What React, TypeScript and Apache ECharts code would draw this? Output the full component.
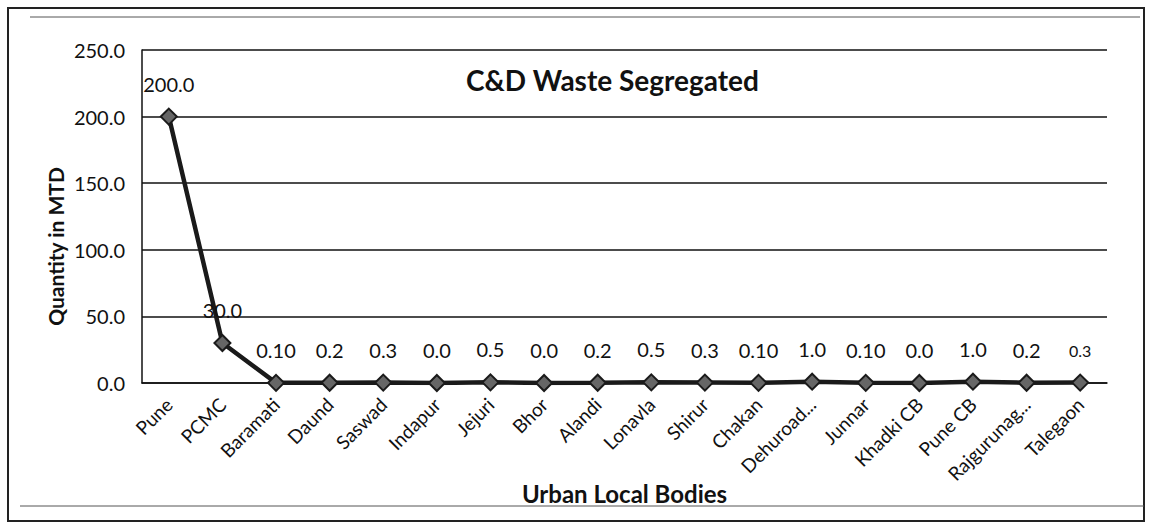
import React, { useEffect, useRef } from "react";
import * as echarts from "echarts";

const categories = [
  "Pune", "PCMC", "Baramati", "Daund", "Saswad", "Indapur", "Jejuri", "Bhor", "Alandi",
  "Lonavla", "Shirur", "Chakan", "Dehuroad...", "Junnar", "Khadki CB", "Pune CB", "Rajgurunag...", "Talegaon",
];
const values = [200, 30, 0.1, 0.2, 0.3, 0.0, 0.5, 0.0, 0.2, 0.5, 0.3, 0.1, 1.0, 0.1, 0.0, 1.0, 0.2, 0.3];
const valueLabels = [
  "200.0", "30.0", "0.10", "0.2", "0.3", "0.0", "0.5", "0.0", "0.2",
  "0.5", "0.3", "0.10", "1.0", "0.10", "0.0", "1.0", "0.2", "0.3",
];
const yTicks = [0, 50, 100, 150, 200, 250];

const FONT = "Lato, 'Open Sans', sans-serif";

export default function App() {
  const ref = useRef<HTMLDivElement>(null);
  useEffect(() => {
    if (!ref.current) return;
    const chart = echarts.init(ref.current, null, { renderer: "svg" });
    const data = values.map((v, i) => {
      const item: any = { value: v };
      if (i === values.length - 1) item.label = { fontSize: 16, distance: 15 };
      return item;
    });
    chart.setOption({
      animation: false,
      backgroundColor: "#ffffff",
      title: {
        text: "C&D Waste Segregated",
        left: 461,
        top: 61,
        textStyle: { fontFamily: FONT, fontSize: 28, fontWeight: "bold", color: "#111" },
      },
      grid: { left: 142, right: 44, top: 50, bottom: 146 },
      xAxis: {
        type: "category",
        data: categories,
        boundaryGap: true,
        name: "Urban Local Bodies",
        nameLocation: "middle",
        nameGap: 98,
        nameMoveOverlap: false,
        nameTextStyle: { fontFamily: FONT, fontSize: 24, fontWeight: "bold", color: "#111" },
        axisLine: { show: true, lineStyle: { color: "#111", width: 1.5 } },
        axisTick: { show: false },
        axisLabel: {
          interval: 0,
          rotate: 45,
          margin: 18,
          fontFamily: FONT,
          fontSize: 19,
          color: "#111",
        },
      },
      yAxis: {
        type: "value",
        min: 0,
        max: 250,
        interval: 50,
        name: "Quantity in MTD",
        nameLocation: "middle",
        nameGap: 76,
        nameMoveOverlap: false,
        nameTextStyle: { fontFamily: FONT, fontSize: 21, fontWeight: "bold", color: "#111", padding: [0, 60, 0, 0] },
        axisLine: { show: true, lineStyle: { color: "#111", width: 1.5 } },
        axisTick: { show: false },
        axisLabel: {
          margin: 17,
          fontFamily: FONT,
          fontSize: 20,
          color: "#111",
          formatter: (v: number) => (yTicks.includes(v) ? v.toFixed(1) : ""),
        },
        splitLine: { show: true, lineStyle: { color: "#111", width: 1.5 } },
      },
      series: [
        {
          type: "line",
          data,
          symbol: "diamond",
          symbolSize: 16,
          lineStyle: { color: "#1a1a1a", width: 4.5 },
          itemStyle: { color: "#666", borderColor: "#1a1a1a", borderWidth: 2 },
          label: {
            show: true,
            position: "top",
            distance: 14,
            fontFamily: FONT,
            fontSize: 20,
            color: "#111",
            formatter: (p: any) => valueLabels[p.dataIndex],
          },
        },
      ],
      graphic: [
        { type: "rect", shape: { x: 8, y: 8, width: 1136, height: 513 }, style: { fill: "none", stroke: "#222", lineWidth: 2 } },
        { type: "line", shape: { x1: 30, y1: 17, x2: 1140, y2: 17 }, style: { stroke: "#555", lineWidth: 1 } },
        { type: "line", shape: { x1: 20, y1: 506, x2: 1144, y2: 506 }, style: { stroke: "#555", lineWidth: 1 } },
      ],
    });
    return () => chart.dispose();
  }, []);
  return (
    <div
      ref={ref}
      style={{ position: "fixed", left: 0, top: 0, width: 1151, height: 529, background: "#fff" }}
    />
  );
}
